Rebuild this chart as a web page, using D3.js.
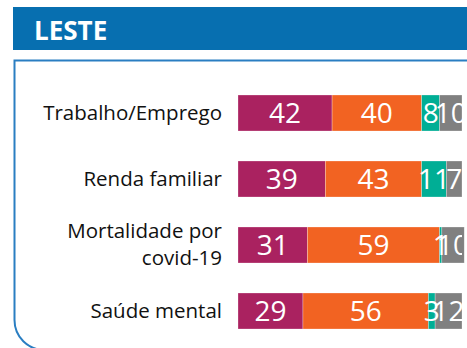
<!DOCTYPE html>
<html>
<head>
<meta charset="utf-8">
<script src="https://cdn.jsdelivr.net/npm/d3@7"></script>
<style>
  html, body { margin: 0; padding: 0; background: #fff; }
  svg { display: block; }
</style>
</head>
<body>
<svg id="chart" width="467" height="348"></svg>
<script>
// Region title
const title = "LESTE";

// Categories (top to bottom); "\n" splits a label over two lines
const categories = ["Trabalho/Emprego", "Renda familiar", "Mortalidade por\ncovid-19", "Saúde mental"];

// Series names and their colours
const seriesNames = ["s1", "s2", "s3", "s4"];
const seriesColors = ["#AA2260", "#F26322", "#00AE95", "#808080"];

// Values per series, in category order
const s1 = [42, 39, 31, 29];
const s2 = [40, 43, 59, 56];
const s3 = [8, 11, 1, 3];
const s4 = [10, 7, 10, 12];

const seriesValues = [s1, s2, s3, s4];

const svg = d3.select("#chart");
const W = 467, H = 348;

// Header band
svg.append("rect")
  .attr("x", 13).attr("y", 7)
  .attr("width", W - 13).attr("height", 43)
  .attr("fill", "#076FB0");
svg.append("text")
  .attr("x", 34).attr("y", 39.5)
  .attr("fill", "#fff")
  .attr("font-family", "'Open Sans', sans-serif")
  .attr("font-weight", 700)
  .attr("font-size", 26)
  .text(title);

// Framed panel: square top-left, rounded lower-left corner
const px = 14.5, pt = 60.5, pb = 350, r = 30;
const frame = d3.path();
frame.moveTo(W + 5, pt);
frame.lineTo(px, pt);
frame.lineTo(px, pb - r);
frame.arcTo(px, pb, px + r, pb, r);
frame.lineTo(W + 5, pb);
svg.append("path")
  .attr("d", frame.toString())
  .attr("fill", "none")
  .attr("stroke", "#2A7EC2")
  .attr("stroke-width", 2);

// Scales
const x = d3.scaleLinear().domain([0, 100]).range([238, 462]);
const y = d3.scaleBand().domain(categories).range([80, 344])
  .paddingInner(30 / 66).paddingOuter(15 / 66);

// Stack the rows
const rows = categories.map((c, i) => {
  const o = { cat: c };
  seriesNames.forEach((s, j) => o[s] = seriesValues[j][i]);
  return o;
});
const stacked = d3.stack().keys(seriesNames)(rows);

svg.append("defs").append("clipPath").attr("id", "plotClip")
  .append("rect").attr("x", x(0)).attr("y", 0).attr("width", x(100) - x(0)).attr("height", H);

const layers = svg.append("g").selectAll("g")
  .data(stacked).join("g")
  .attr("fill", (d, i) => seriesColors[i]);

layers.selectAll("rect")
  .data(d => d).join("rect")
  .attr("x", d => x(d[0]))
  .attr("y", d => y(d.data.cat))
  .attr("width", d => x(d[1]) - x(d[0]))
  .attr("height", y.bandwidth())
  .attr("stroke", "rgba(255,255,255,0.45)")
  .attr("stroke-width", 0.6);

// Value labels
const labels = svg.append("g").attr("clip-path", "url(#plotClip)");
stacked.forEach(layer => {
  labels.selectAll(null)
    .data(layer).join("text")
    .attr("x", d => (x(d[0]) + x(d[1])) / 2)
    .attr("y", d => y(d.data.cat) + y.bandwidth() / 2)
    .attr("dy", "0.36em")
    .attr("text-anchor", "middle")
    .attr("fill", "#fff")
    .attr("font-family", "'Open Sans', sans-serif")
    .attr("font-size", 28)
    .text(d => d[1] - d[0]);
});

// Category labels
const catG = svg.append("g");
categories.forEach(c => {
  const lines = c.split("\n");
  const cy = y(c) + y.bandwidth() / 2;
  const lh = 27.3;
  const t = catG.append("text")
    .attr("text-anchor", "end")
    .attr("fill", "#111")
    .attr("font-family", "'Open Sans', sans-serif")
    .attr("font-size", 20.5);
  lines.forEach((ln, k) => {
    t.append("tspan")
      .attr("x", 222)
      .attr("y", cy + (k - (lines.length - 1) / 2) * lh)
      .attr("dy", "0.33em")
      .text(ln);
  });
});
</script>
</body>
</html>
